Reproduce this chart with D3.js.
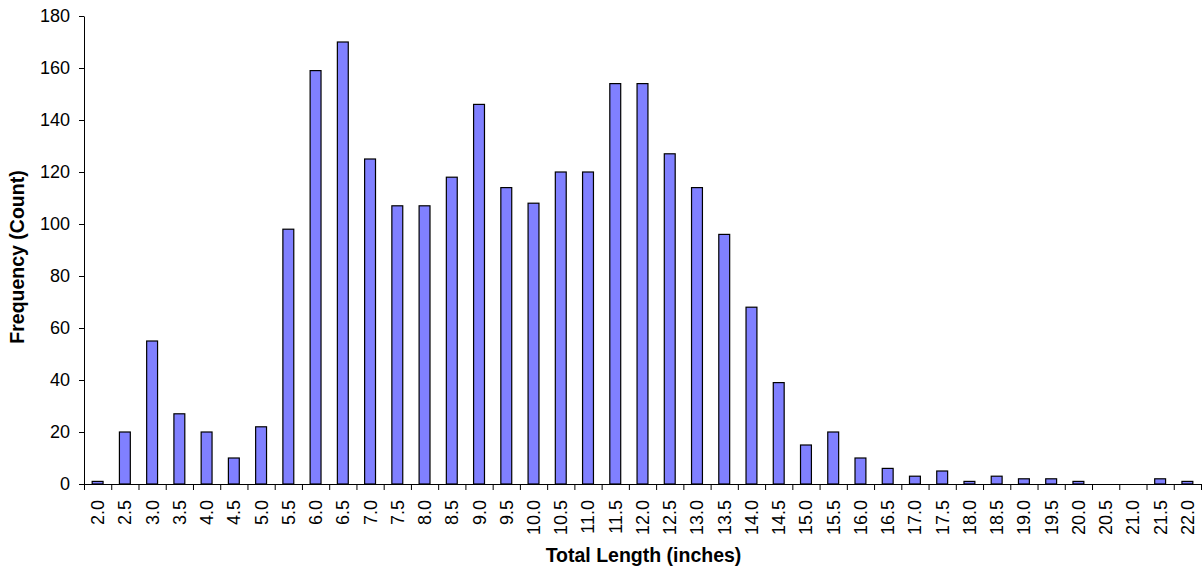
<!DOCTYPE html>
<html>
<head>
<meta charset="utf-8">
<script src="https://cdn.jsdelivr.net/npm/d3@7"></script>
<style>
  html, body { margin: 0; padding: 0; background: #fff; }
  svg { display: block; font-family: "Liberation Sans", Arial, sans-serif; }
</style>
</head>
<body>
<svg id="chart" width="1204" height="571"></svg>
<script>
const categories = ["2.0","2.5","3.0","3.5","4.0","4.5","5.0","5.5","6.0","6.5","7.0","7.5","8.0","8.5","9.0","9.5","10.0","10.5","11.0","11.5","12.0","12.5","13.0","13.5","14.0","14.5","15.0","15.5","16.0","16.5","17.0","17.5","18.0","18.5","19.0","19.5","20.0","20.5","21.0","21.5","22.0"];
const counts = [1,20,55,27,20,10,22,98,159,170,125,107,107,118,146,114,108,120,120,154,154,127,114,96,68,39,15,20,10,6,3,5,1,3,2,2,1,0,0,2,1];
const yTicks = [0,20,40,60,80,100,120,140,160,180];
const xTitle = "Total Length (inches)";
const yTitle = "Frequency (Count)";

const svg = d3.select("#chart");
const mLeft = 84, mRight = 1201, mTop = 16, mBottom = 484;

const x = d3.scaleBand().domain(categories).range([mLeft, mRight]).paddingInner(0.6).paddingOuter(0.3);
const xEdge = d3.scaleLinear().domain([0, categories.length]).range([mLeft, mRight]);
const y = d3.scaleLinear().domain([0, 180]).range([mBottom, mTop]);

// bars
svg.append("g").selectAll("rect").data(counts).join("rect")
  .attr("x", (d, i) => x(categories[i]))
  .attr("y", d => y(d))
  .attr("width", x.bandwidth())
  .attr("height", d => y(0) - y(d))
  .attr("fill", "#8080ff")
  .attr("stroke", "#000")
  .attr("stroke-width", 1.2);

// y axis
const gy = svg.append("g").attr("transform", `translate(${mLeft},0)`)
  .call(d3.axisLeft(y).tickValues(yTicks).tickSize(5).tickPadding(9).tickSizeOuter(0));
gy.selectAll("text").attr("font-size", 18).attr("fill", "#000").attr("font-family", "Liberation Sans, Arial, sans-serif");
gy.selectAll("line, path").attr("stroke", "#000");

// x axis tick marks at category boundaries
const gxe = svg.append("g").attr("transform", `translate(0,${mBottom})`)
  .call(d3.axisBottom(xEdge).tickValues(d3.range(categories.length + 1)).tickSize(6).tickSizeOuter(0).tickFormat(""));
gxe.selectAll("line, path").attr("stroke", "#000");

// x labels (rotated)
const gx = svg.append("g").attr("transform", `translate(0,${mBottom})`)
  .call(d3.axisBottom(x).tickSize(0).tickPadding(0));
gx.select(".domain").remove();
gx.selectAll("text")
  .attr("font-size", 18).attr("fill", "#000").attr("font-family", "Liberation Sans, Arial, sans-serif")
  .attr("text-anchor", "end")
  .attr("transform", "rotate(-90)")
  .attr("x", -16).attr("y", 0).attr("dy", "0.36em");

// titles
svg.append("text").attr("x", (mLeft + mRight) / 2 + 1).attr("y", 562)
  .attr("text-anchor", "middle").attr("font-size", 19.5).attr("font-weight", "bold")
  .text(xTitle);
svg.append("text").attr("transform", "translate(24,257) rotate(-90)")
  .attr("text-anchor", "middle").attr("font-size", 19.5).attr("font-weight", "bold")
  .text(yTitle);
</script>
</body>
</html>
